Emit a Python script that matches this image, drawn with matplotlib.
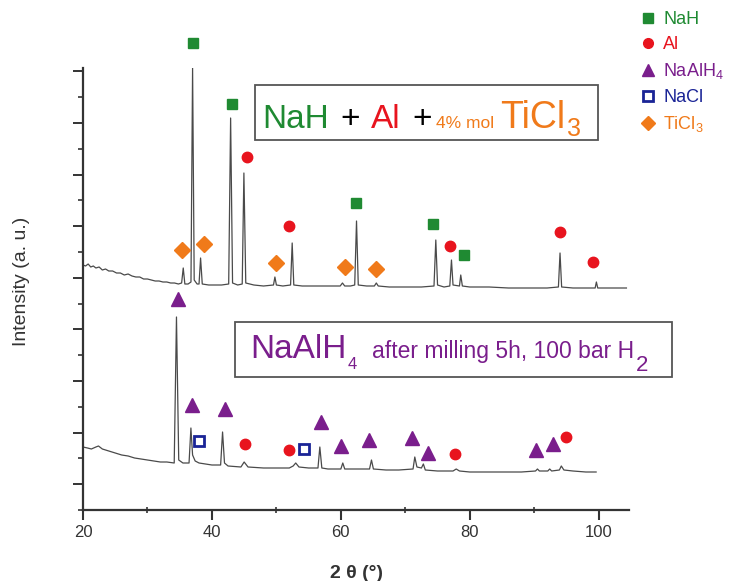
import matplotlib
matplotlib.use("Agg")
import matplotlib.pyplot as plt
from matplotlib.lines import Line2D
from matplotlib.patches import Rectangle
from matplotlib.ticker import FixedLocator, MultipleLocator

plt.rcParams['font.family'] = ['Liberation Sans', 'DejaVu Sans']
plt.rcParams['mathtext.fontset'] = 'custom'
plt.rcParams['mathtext.rm'] = 'Liberation Sans'
plt.rcParams['mathtext.it'] = 'Liberation Sans:italic'
plt.rcParams['mathtext.bf'] = 'Liberation Sans:bold'

# ---------------- data (2theta in degrees, intensity in a.u.) ----------------
top_2theta = [20.0, 20.4, 20.8, 21.2, 21.6, 22.0, 22.5, 23.0, 23.5, 24.0, 24.6, 25.2,
              25.8, 26.4, 27.0, 27.6, 28.2, 28.8, 29.4, 30.0, 30.6, 31.2, 31.8, 32.4,
              33.0, 33.6, 34.2, 34.8, 35.3, 35.55, 35.8, 36.3, 36.75, 37.0, 37.25, 37.7,
              38.0, 38.24, 38.5, 39.5, 40.5, 41.5, 42.6, 42.9, 43.2, 44.0, 44.7, 44.96,
              45.25, 46.5, 48.0, 49.55, 49.77, 50.0, 51.0, 52.2, 52.45, 52.7, 54.0, 56.0,
              58.0, 59.9, 60.25, 60.6, 61.5, 62.15, 62.43, 62.7, 64.0, 65.2, 65.5, 65.8,
              67.5, 70.0, 72.5, 74.45, 74.73, 75.0, 76.0, 76.9, 77.16, 77.4, 78.4, 78.6,
              78.85, 80.0, 83.0, 86.0, 89.0, 92.0, 93.75, 94.0, 94.25, 96.0, 98.0, 99.45,
              99.64, 99.85, 101.0, 102.5, 104.3]
top_intensity = [245, 244, 246, 243, 244, 242, 243, 240, 241, 239, 239, 237,
                 237, 235, 236, 234, 233, 233, 231, 231, 230, 229, 229, 228,
                 228, 227, 227, 226, 227, 242, 226, 226, 228, 442, 230, 226,
                 226, 252, 226, 225, 225, 225, 226, 392, 227, 225, 226, 337,
                 227, 225, 224, 225, 233, 225, 224, 225, 267, 225, 224, 224,
                 224, 224, 227, 224, 224, 225, 289, 225, 224, 224, 227, 224,
                 223, 223, 223, 224, 270, 225, 223, 224, 250, 225, 224, 235,
                 224, 223, 223, 222, 222, 222, 223, 257, 223, 222, 222, 222,
                 228, 222, 222, 222, 222]

bot_2theta = [20.0, 20.7, 21.3, 22.0, 22.4, 23.0, 24.0, 25.0, 26.0, 27.0, 28.0, 29.0,
              30.0, 31.0, 32.0, 33.0, 34.15, 34.5, 34.85, 35.5, 36.45, 36.74, 37.0, 37.4,
              38.0, 39.0, 40.0, 41.35, 41.65, 41.95, 42.5, 44.5, 45.0, 45.6, 48.0, 50.0,
              52.0, 52.6, 53.0, 53.5, 55.0, 56.45, 56.74, 57.05, 58.0, 60.0, 60.3, 60.6,
              62.0, 64.45, 64.75, 65.05, 67.0, 69.0, 71.2, 71.47, 71.8, 72.5, 72.8, 73.1,
              75.0, 77.4, 77.9, 78.4, 80.0, 82.0, 85.0, 88.0, 90.2, 90.5, 90.8, 92.1,
              92.4, 92.7, 93.9, 94.2, 94.6, 96.0, 98.0, 99.6]
bot_intensity = [63, 62, 61, 63, 64, 61, 59, 57, 55, 54, 52, 51,
                 50, 49, 48, 48, 47, 193, 50, 47, 47, 82, 55, 49,
                 47, 46, 45, 45, 78, 47, 44, 43, 48, 43, 42, 42,
                 42, 44, 47, 43, 42, 42, 63, 42, 41, 41, 47, 41,
                 41, 41, 50, 41, 40, 40, 41, 53, 43, 42, 46, 40,
                 39, 39, 41, 39, 38, 38, 38, 38, 39, 41, 39, 39,
                 41, 39, 40, 44, 40, 39, 38, 38]

# phase markers (2theta, height)
nah_x = [37.05, 43.15, 62.3, 74.3, 79.1]
nah_y = [467, 406, 307, 286, 255]
al_top_x = [45.4, 52.0, 77.0, 93.95, 99.1]
al_top_y = [353, 284, 264, 278, 248]
ticl3_x = [35.3, 38.8, 50.0, 60.6, 65.4]
ticl3_y = [260, 266, 247, 243, 241]
naalh4_x = [34.7, 36.85, 42.0, 56.9, 60.0, 64.4, 71.1, 73.5, 90.2, 92.9]
naalh4_y = [211, 105, 101, 88, 64, 70, 72, 57, 60, 66]
al_bot_x = [45.1, 51.9, 77.7, 95.0]
al_bot_y = [66, 60, 56, 73]
nacl_x = [38.0, 54.3]
nacl_y = [69, 61]

phase_labels = ['NaH', 'Al', r'NaAlH$\mathregular{_4}$', 'NaCl', r'TiCl$\mathregular{_3}$']
x_ticks = [20, 40, 60, 80, 100]

# ---------------- style ----------------
GREEN = '#1f8a32'
RED = '#e8141e'
PURPLE = '#7a1e8c'
BLUE = '#1a2496'
ORANGE = '#f07a1a'
AXC = '#333333'
LINEC = '#4a4a4a'

W, H = 735, 581
fig = plt.figure(figsize=(W / 100, H / 100), dpi=100)
ax = fig.add_axes([83 / W, 1 - 510 / H, 546 / W, 442 / H])

def fx(px):
    return px / W

def fy(py):
    return 1 - py / H

ax.plot(top_2theta, top_intensity, color=LINEC, lw=0.9, zorder=2)
ax.plot(bot_2theta, bot_intensity, color=LINEC, lw=0.9, zorder=2)

mk = dict(ls='none', clip_on=False, zorder=4)
ax.plot(nah_x, nah_y, marker='s', ms=7, color=GREEN, mec=GREEN, **mk)
ax.plot(al_top_x, al_top_y, marker='o', ms=7.5, color=RED, mec=RED, **mk)
ax.plot(ticl3_x, ticl3_y, marker='D', ms=8.5, color=ORANGE, mec=ORANGE, **mk)
ax.plot(naalh4_x, naalh4_y, marker='^', ms=9.5, color=PURPLE, mec=PURPLE, **mk)
ax.plot(al_bot_x, al_bot_y, marker='o', ms=7.5, color=RED, mec=RED, **mk)
ax.plot(nacl_x, nacl_y, marker='s', ms=7.5, mfc='white', mec=BLUE, mew=2, **mk)

ax.set_xlim(20, 104.7)
ax.set_ylim(0, 442)
for s in ['top', 'right']:
    ax.spines[s].set_visible(False)
for s in ['left', 'bottom']:
    ax.spines[s].set_color(AXC)
    ax.spines[s].set_linewidth(1.6)

ax.xaxis.set_major_locator(FixedLocator(x_ticks))
ax.xaxis.set_minor_locator(MultipleLocator(10))
ax.yaxis.set_major_locator(FixedLocator([25.8 + 51.6 * k for k in range(9)]))
ax.yaxis.set_minor_locator(FixedLocator([51.6 * k for k in range(9)]))
ax.tick_params(axis='x', which='major', direction='out', length=7, width=1.5,
               color=AXC, labelcolor=AXC, labelsize=12, pad=4)
ax.tick_params(axis='x', which='minor', direction='inout', length=5, width=1.2, color=AXC)
ax.tick_params(axis='y', which='major', direction='out', length=7, width=1.4,
               color=AXC, labelleft=False)
ax.tick_params(axis='y', which='minor', direction='out', length=3.5, width=1.2, color=AXC)

ax.set_ylabel('Intensity (a. u.)', fontsize=14, color=AXC, va='center', ha='center')
ax.yaxis.set_label_coords((22 - 83) / 546, (510 - 281) / 442)
ax.set_xlabel('2 θ (°)', fontsize=14, color=AXC, fontweight='bold', va='center')
ax.xaxis.set_label_coords(0.5, (510 - 573) / 442)

# ---------------- annotation boxes ----------------
fig.patches.append(Rectangle((fx(255), fy(140)), fx(598) - fx(255), fy(85) - fy(140),
                             transform=fig.transFigure, fill=False, ec='#555555', lw=1.3))
fig.patches.append(Rectangle((fx(235), fy(377)), fx(672) - fx(235), fy(322) - fy(377),
                             transform=fig.transFigure, fill=False, ec='#555555', lw=1.3))

tb = dict(va='baseline', ha='left')
fig.text(fx(262), fy(128), 'NaH', color=GREEN, fontsize=24, **tb)
fig.text(fx(340), fy(128), '+', color='black', fontsize=24, **tb)
fig.text(fx(371), fy(128), 'Al', color=RED, fontsize=24, **tb)
fig.text(fx(412), fy(128), '+', color='black', fontsize=24, **tb)
fig.text(fx(436), fy(128), '4% mol', color=ORANGE, fontsize=12.5, **tb)
fig.text(fx(500), fy(128), 'TiCl', color=ORANGE, fontsize=27, **tb)
fig.text(fx(567), fy(136), '3', color=ORANGE, fontsize=18, **tb)

fig.text(fx(250), fy(358), 'NaAlH', color=PURPLE, fontsize=24, **tb)
fig.text(fx(348), fy(369), '4', color=PURPLE, fontsize=12, **tb)
fig.text(fx(372), fy(358), 'after milling 5h, 100 bar H', color=PURPLE,
         fontsize=16.5, **tb)
fig.text(fx(636), fy(371), '2', color=PURPLE, fontsize=16, **tb)

# ---------------- legend ----------------
handles = [
    Line2D([], [], ls='none', marker='s', ms=6.5, color=GREEN),
    Line2D([], [], ls='none', marker='o', ms=7, color=RED),
    Line2D([], [], ls='none', marker='^', ms=8, color=PURPLE),
    Line2D([], [], ls='none', marker='s', ms=6.5, mfc='white', mec=BLUE, mew=2),
    Line2D([], [], ls='none', marker='D', ms=7, color=ORANGE),
]
ax.legend(handles, phase_labels, loc='upper left', bbox_to_anchor=(fx(639), fy(11)),
          bbox_transform=fig.transFigure, frameon=False, fontsize=13,
          handlelength=1.0, handletextpad=0.35, labelspacing=0.45, borderpad=0,
          borderaxespad=0, labelcolor=[GREEN, RED, PURPLE, BLUE, ORANGE])

fig.savefig('out.png', dpi=100)
